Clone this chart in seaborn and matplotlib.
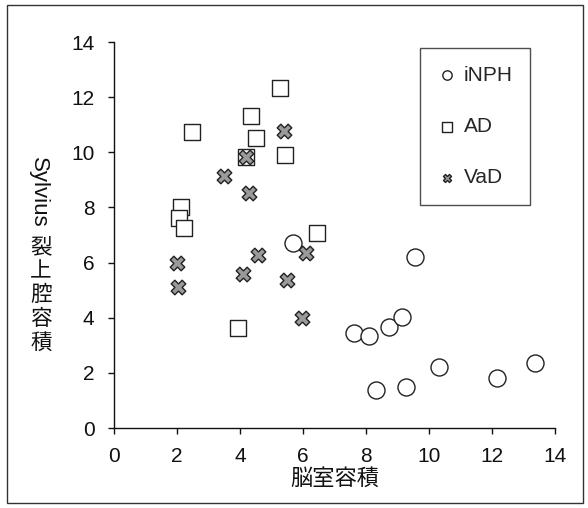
import matplotlib
matplotlib.use("Agg")
import matplotlib.pyplot as plt
import seaborn as sns
import pandas as pd
from matplotlib.patches import Rectangle

# Data
inph_x = [9.56, 7.63, 8.11, 8.74, 9.13, 8.31, 9.26, 10.32, 12.15, 13.37, 5.69]
inph_y = [6.20, 3.46, 3.35, 3.65, 4.01, 1.38, 1.49, 2.22, 1.80, 2.37, 6.70]
ad_x = [5.27, 4.35, 2.49, 4.51, 5.42, 4.19, 2.12, 2.06, 2.22, 6.43, 3.95]
ad_y = [12.32, 11.33, 10.75, 10.51, 9.90, 9.84, 8.03, 7.61, 7.24, 7.06, 3.62]
vad_x = [5.41, 4.19, 3.50, 4.30, 1.99, 2.04, 4.11, 4.58, 5.48, 6.11, 5.98]
vad_y = [10.77, 9.84, 9.14, 8.51, 5.97, 5.13, 5.59, 6.27, 5.37, 6.34, 3.98]
groups = ["iNPH", "AD", "VaD"]
ticks = [0, 2, 4, 6, 8, 10, 12, 14]
xlabel = "脳室容積"
ylabel_latin = "Sylvius"
ylabel_cjk = "裂上腔容積"

df = pd.DataFrame({
    "x": inph_x + ad_x + vad_x,
    "y": inph_y + ad_y + vad_y,
    "g": ["iNPH"] * len(inph_x) + ["AD"] * len(ad_x) + ["VaD"] * len(vad_x),
})

sns.set_theme(style="ticks")
plt.rcParams["font.family"] = ["Liberation Sans", "Noto Sans CJK JP", "DejaVu Sans"]

W, H = 588, 508
fig = plt.figure(figsize=(W / 100, H / 100), dpi=100)
ax = fig.add_axes([114 / W, 1 - 428 / H, 441 / W, 386 / H])

markers = {"iNPH": "o", "AD": "s", "VaD": "X"}
faces = {"iNPH": "white", "AD": "white", "VaD": "#9a9a9a"}
sizes = {"iNPH": 150, "AD": 140, "VaD": 110}
for g in groups:
    sub = df[df["g"] == g]
    sns.scatterplot(data=sub, x="x", y="y", marker=markers[g], s=sizes[g],
                    color=faces[g], edgecolor="#222222", linewidth=1.0,
                    ax=ax, label=g, zorder=3)

ax.set_xlim(0, 14)
ax.set_ylim(0, 14)
ax.set_xticks(ticks)
ax.set_yticks(ticks)
ax.tick_params(axis="both", labelsize=15, length=4, width=1, colors="#111111")
ax.tick_params(axis="x", pad=10)
ax.tick_params(axis="y", pad=10)
for s in ["top", "right"]:
    ax.spines[s].set_visible(False)
for s in ["left", "bottom"]:
    ax.spines[s].set_color("#111111")
    ax.spines[s].set_linewidth(1.0)

ax.set_xlabel(xlabel, fontsize=16, family=["Noto Sans CJK JP", "DejaVu Sans"], labelpad=0, color="#111111")
ax.set_ylabel("")

# Japanese-style vertical y label: Latin rotated, kanji upright and stacked
fig.text(38 / W, 1 - 157 / H, ylabel_latin, rotation=-90, ha="center", va="top",
         fontsize=16, color="#111111", family=["Liberation Sans"])
for i, ch in enumerate(ylabel_cjk):
    fig.text(41 / W, 1 - (247 + 24 * i) / H, ch, ha="center", va="center",
             fontsize=15.5, color="#111111", family=["Noto Sans CJK JP", "DejaVu Sans"])

leg = ax.legend(loc="upper left", bbox_to_anchor=((420 - 114) / 441, (428 - 48) / 386),
                borderaxespad=0, frameon=True, fancybox=False, fontsize=15, markerscale=0.55,
                handletextpad=0.35, labelspacing=1.55, borderpad=0.85, handlelength=0.9)
leg.get_frame().set_edgecolor("#222222")
leg.get_frame().set_linewidth(1.0)

fig.patches.append(Rectangle((7 / W, 5 / H), 576 / W, 498 / H, transform=fig.transFigure,
                             fill=False, edgecolor="#333333", linewidth=1.0))

fig.savefig("out.png", dpi=100)
